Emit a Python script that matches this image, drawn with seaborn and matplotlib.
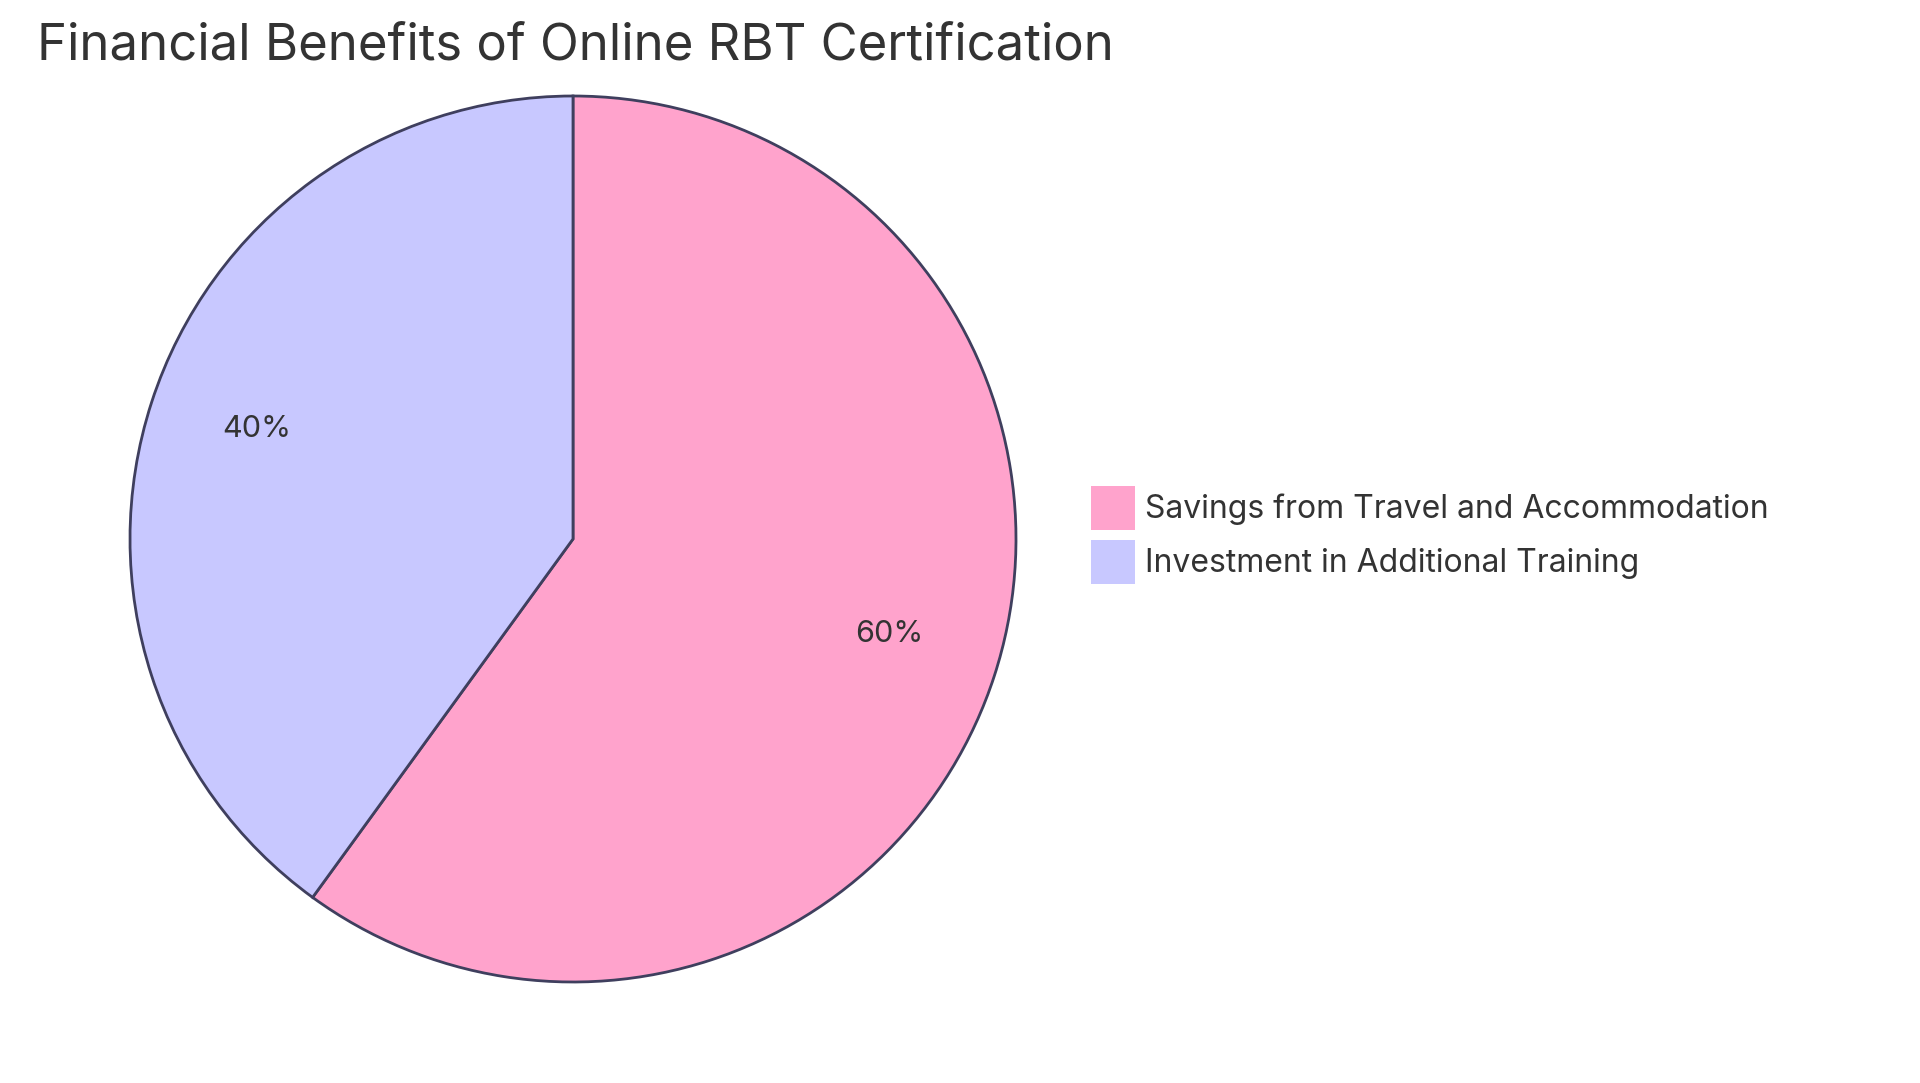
import matplotlib
matplotlib.use("Agg")
import matplotlib.pyplot as plt
import matplotlib.patches as mpatches
import seaborn as sns

title = "Financial Benefits of Online RBT Certification"
categories = ["Savings from Travel and Accommodation", "Investment in Additional Training"]
values = [60, 40]
colors = ["#FFA3CC", "#C8C8FF"]
edge_color = "#3F3F5E"
text_color = "#333333"

sns.set_theme(style="white")
plt.rcParams["font.family"] = ["Inter", "DejaVu Sans"]

W, H = 1920, 1083
fig = plt.figure(figsize=(W / 100, H / 100), dpi=100)
fig.patch.set_facecolor("white")

cx, cy, r = 573, 539, 443
ax = fig.add_axes([(cx - r) / W, (H - cy - r) / H, 2 * r / W, 2 * r / H])

wedges, texts, autotexts = ax.pie(
    values,
    colors=colors,
    startangle=90,
    counterclock=False,
    autopct="%1.0f%%",
    pctdistance=0.75,
    wedgeprops=dict(edgecolor=edge_color, linewidth=2),
    textprops=dict(color=text_color, fontsize=22),
)
for w in wedges:
    w.set_clip_on(False)
for t in autotexts:
    x, y = t.get_position()
    t.set_position((x, y + 0.017))
ax.set_xlim(-1, 1)
ax.set_ylim(-1, 1)
ax.set_aspect("equal")
ax.axis("off")

fig.text(37 / W, 1 - 46 / H, title, fontsize=36.6, color=text_color,
         ha="left", va="center")

handles = [mpatches.Patch(facecolor=c, edgecolor="none") for c in colors]
fs = 23
fs_px = fs * 100 / 72
fig.legend(
    handles, categories,
    loc="upper left",
    bbox_to_anchor=(1091 / W, 1 - 486 / H),
    frameon=False,
    fontsize=fs,
    labelcolor=text_color,
    handlelength=44 / fs_px,
    handleheight=(44 / fs_px - 0.245) / 0.65,
    handletextpad=10 / fs_px,
    labelspacing=10 / fs_px,
    borderpad=0,
    borderaxespad=0,
)

fig.savefig("out.png", dpi=100)
